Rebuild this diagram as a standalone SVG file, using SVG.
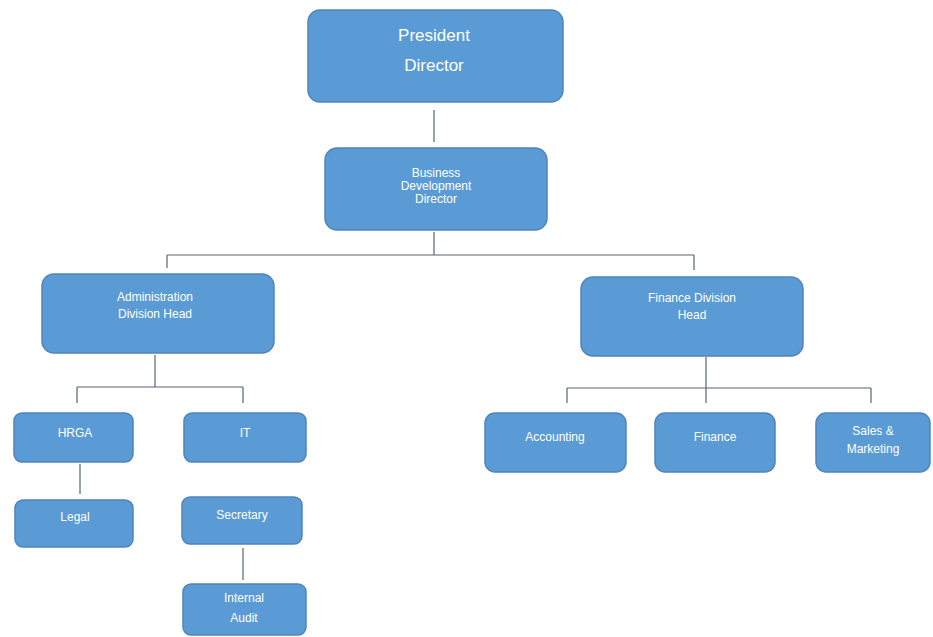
<svg xmlns="http://www.w3.org/2000/svg" width="933" height="637" viewBox="0 0 933 637">
<style>
.box{fill:#5b9bd5;stroke:#4f84bd;stroke-width:1.5}
.t{fill:#ffffff;font-family:"Liberation Sans",Arial,sans-serif;font-size:12px;text-anchor:middle}
.big{font-size:17px}
.c{stroke:#5a6470;stroke-width:1.2;fill:none}
</style>
<rect width="933" height="637" fill="#ffffff"/>
<g id="connectors">
<path class="c" d="M434 110V142"/>
<path class="c" d="M434 232V255M167 255H694M167 255V268M694 255V270"/>
<path class="c" d="M155 355V387M77 387H243M77 387V403M243 387V403"/>
<path class="c" d="M80 464V494"/>
<path class="c" d="M243 548V580"/>
<path class="c" d="M706 357V388M567 388H871M567 388V403M706 388V403M871 388V403"/>
</g>
<g id="president"><rect class="box" x="308" y="10" width="255" height="92" rx="12"/><text class="t big" x="434" y="41">President</text><text class="t big" x="434" y="71">Director</text></g>
<g id="business"><rect class="box" x="325" y="148" width="222" height="82" rx="12"/><text class="t" x="436" y="177">Business</text><text class="t" x="436" y="190">Development</text><text class="t" x="436" y="203">Director</text></g>
<g id="admin"><rect class="box" x="42" y="274" width="232" height="79" rx="12"/><text class="t" x="155" y="301">Administration</text><text class="t" x="155" y="318">Division Head</text></g>
<g id="financehead"><rect class="box" x="581" y="277" width="222" height="79" rx="12"/><text class="t" x="692" y="302">Finance Division</text><text class="t" x="692" y="319">Head</text></g>
<g id="hrga"><rect class="box" x="14" y="413" width="119" height="49" rx="8"/><text class="t" x="75" y="437">HRGA</text></g>
<g id="it"><rect class="box" x="184" y="413" width="122" height="49" rx="8"/><text class="t" x="245" y="437">IT</text></g>
<g id="legal"><rect class="box" x="15" y="500" width="118" height="47" rx="8"/><text class="t" x="75" y="521">Legal</text></g>
<g id="secretary"><rect class="box" x="182" y="497" width="120" height="47" rx="8"/><text class="t" x="242" y="519">Secretary</text></g>
<g id="audit"><rect class="box" x="183" y="584" width="123" height="51" rx="8"/><text class="t" x="244" y="602">Internal</text><text class="t" x="244" y="622">Audit</text></g>
<g id="accounting"><rect class="box" x="485" y="413" width="141" height="59" rx="10"/><text class="t" x="555" y="441">Accounting</text></g>
<g id="finance"><rect class="box" x="655" y="413" width="120" height="59" rx="10"/><text class="t" x="715" y="441">Finance</text></g>
<g id="sales"><rect class="box" x="816" y="413" width="114" height="59" rx="10"/><text class="t" x="873" y="435">Sales &amp;</text><text class="t" x="873" y="453">Marketing</text></g>
</svg>
